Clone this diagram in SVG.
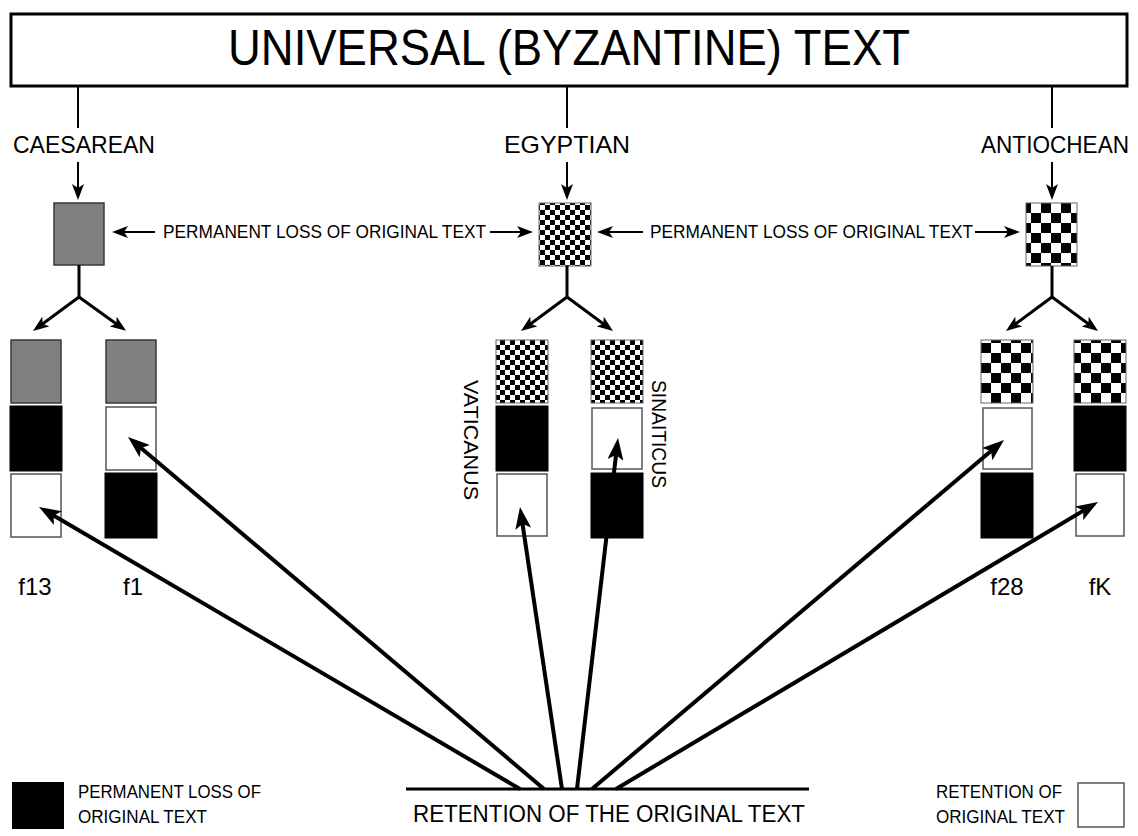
<svg xmlns="http://www.w3.org/2000/svg" width="1138" height="836" viewBox="0 0 1138 836">
<style>
text{font-family:"Liberation Sans",Arial,sans-serif;fill:#000}
.ln{stroke:#000;fill:none}
.thin{stroke-width:2}
.med{stroke-width:3}
.thick{stroke-width:4}
.gray{fill:#808080;stroke:#3a3a3a;stroke-width:1.5}
.blk{fill:#000;stroke:#000;stroke-width:1}
.wht{fill:#fff;stroke:#555;stroke-width:1.5}
.chkS{fill:url(#chkS);stroke:#666;stroke-width:1}
.chkL{fill:url(#chkL);stroke:#666;stroke-width:1}
</style>
<defs>
<pattern id="chkS" patternUnits="userSpaceOnUse" width="10" height="10"><rect width="10" height="10" fill="#fff"/><rect width="5" height="5" fill="#000"/><rect x="5" y="5" width="5" height="5" fill="#000"/></pattern>
<pattern id="chkL" patternUnits="userSpaceOnUse" width="20" height="20" x="1" y="3"><rect width="20" height="20" fill="#fff"/><rect width="10" height="10" fill="#000"/><rect x="10" y="10" width="10" height="10" fill="#000"/></pattern>
<marker id="ahS" markerUnits="userSpaceOnUse" markerWidth="16" markerHeight="12" refX="8" refY="6" orient="auto"><path d="M0,0 L16,6 L0,12 L4,6 z" fill="#000"/></marker>
<marker id="ahL" markerUnits="userSpaceOnUse" markerWidth="22" markerHeight="16" refX="10" refY="8" orient="auto"><path d="M0,0 L22,8 L0,16 L5,8 z" fill="#000"/></marker>
</defs>
<rect width="1138" height="836" fill="#fff"/>

<g id="title">
<rect x="11" y="14" width="1116" height="72" fill="#fff" stroke="#000" stroke-width="3"/>
<text x="569" y="65" font-size="50" text-anchor="middle" textLength="682" lengthAdjust="spacingAndGlyphs">UNIVERSAL (BYZANTINE) TEXT</text>
</g>

<g id="labels-top">
<text x="84" y="153" font-size="24" text-anchor="middle" textLength="142" lengthAdjust="spacingAndGlyphs">CAESAREAN</text>
<text x="567" y="153" font-size="24" text-anchor="middle" textLength="126" lengthAdjust="spacingAndGlyphs">EGYPTIAN</text>
<text x="1055" y="153" font-size="24" text-anchor="middle" textLength="148" lengthAdjust="spacingAndGlyphs">ANTIOCHEAN</text>
</g>

<g id="caesarean"><rect x="54" y="203" width="50" height="62" class="gray"/></g>
<g id="egyptian"><rect x="539" y="203" width="52" height="63" class="chkS"/></g>
<g id="antiochean"><rect x="1026" y="203" width="51" height="63" class="chkL"/></g>

<g id="loss-labels">
<text x="163" y="238" font-size="18" textLength="323" lengthAdjust="spacingAndGlyphs">PERMANENT LOSS OF ORIGINAL TEXT</text>
<text x="650" y="238" font-size="18" textLength="323" lengthAdjust="spacingAndGlyphs">PERMANENT LOSS OF ORIGINAL TEXT</text>
</g>

<g id="f13">
<rect x="11" y="340" width="50" height="63" class="gray"/>
<rect x="10" y="406" width="52" height="65" class="blk"/>
<rect x="11" y="474" width="50" height="63" class="wht"/>
<text x="35" y="595" font-size="24" text-anchor="middle">f13</text>
</g>
<g id="f1">
<rect x="106" y="340" width="50" height="63" class="gray"/>
<rect x="106" y="407" width="50" height="63" class="wht"/>
<rect x="105" y="473" width="52" height="65" class="blk"/>
<text x="133" y="595" font-size="24" text-anchor="middle">f1</text>
</g>
<g id="vaticanus">
<rect x="496" y="340" width="52" height="63" class="chkS"/>
<rect x="496" y="406" width="52" height="65" class="blk"/>
<rect x="497" y="474" width="50" height="62" class="wht"/>
<text transform="translate(464,440) rotate(90)" font-size="21" text-anchor="middle" textLength="120" lengthAdjust="spacingAndGlyphs">VATICANUS</text>
</g>
<g id="sinaiticus">
<rect x="591" y="340" width="52" height="63" class="chkS"/>
<rect x="592" y="408" width="50" height="61" class="wht"/>
<rect x="591" y="473" width="52" height="65" class="blk"/>
<text transform="translate(652,434) rotate(90)" font-size="21" text-anchor="middle" textLength="108" lengthAdjust="spacingAndGlyphs">SINAITICUS</text>
</g>
<g id="f28">
<rect x="981" y="340" width="52" height="63" class="chkL"/>
<rect x="983" y="408" width="49" height="61" class="wht"/>
<rect x="981" y="473" width="52" height="65" class="blk"/>
<text x="1007" y="595" font-size="24" text-anchor="middle">f28</text>
</g>
<g id="fK">
<rect x="1074" y="340" width="52" height="63" class="chkL"/>
<rect x="1074" y="406" width="52" height="65" class="blk"/>
<rect x="1076" y="474" width="48" height="62" class="wht"/>
<text x="1100" y="595" font-size="24" text-anchor="middle">fK</text>
</g>

<g id="retention">
<line x1="406" y1="789" x2="809" y2="789" class="ln med"/>
<text x="609" y="822" font-size="23" text-anchor="middle" textLength="392" lengthAdjust="spacingAndGlyphs">RETENTION OF THE ORIGINAL TEXT</text>
</g>

<g id="legend-loss">
<rect x="12" y="782" width="52" height="47" fill="#000"/>
<text x="78" y="798" font-size="18" textLength="183" lengthAdjust="spacingAndGlyphs">PERMANENT LOSS OF</text>
<text x="78" y="823" font-size="18" textLength="129" lengthAdjust="spacingAndGlyphs">ORIGINAL TEXT</text>
</g>
<g id="legend-retention">
<text x="936" y="798" font-size="18" textLength="126" lengthAdjust="spacingAndGlyphs">RETENTION OF</text>
<text x="936" y="823" font-size="18" textLength="129" lengthAdjust="spacingAndGlyphs">ORIGINAL TEXT</text>
<rect x="1078" y="783" width="46" height="44" class="wht"/>
</g>

<g id="connectors">
<line x1="78" y1="86" x2="78" y2="128" class="ln thin"/>
<line x1="567" y1="86" x2="567" y2="128" class="ln thin"/>
<line x1="1052" y1="86" x2="1052" y2="128" class="ln thin"/>
<line x1="78" y1="162" x2="78" y2="192" class="ln thin" marker-end="url(#ahS)"/>
<line x1="567" y1="162" x2="567" y2="192" class="ln thin" marker-end="url(#ahS)"/>
<line x1="1052" y1="162" x2="1052" y2="192" class="ln thin" marker-end="url(#ahS)"/>

<line x1="155" y1="232" x2="120" y2="232" class="ln thin" marker-end="url(#ahS)"/>
<line x1="490" y1="232" x2="525" y2="232" class="ln thin" marker-end="url(#ahS)"/>
<line x1="643" y1="232" x2="605" y2="232" class="ln thin" marker-end="url(#ahS)"/>
<line x1="975" y1="232" x2="1012" y2="232" class="ln thin" marker-end="url(#ahS)"/>

<line x1="79" y1="265" x2="79" y2="297" class="ln med"/>
<line x1="79" y1="297" x2="39.4" y2="326.2" class="ln med" marker-end="url(#ahS)"/>
<line x1="79" y1="297" x2="119.6" y2="326.2" class="ln med" marker-end="url(#ahS)"/>
<line x1="567" y1="266" x2="567" y2="297" class="ln med"/>
<line x1="567" y1="297" x2="527.4" y2="326.2" class="ln med" marker-end="url(#ahS)"/>
<line x1="567" y1="297" x2="606.6" y2="326.2" class="ln med" marker-end="url(#ahS)"/>
<line x1="1052" y1="266" x2="1052" y2="297" class="ln med"/>
<line x1="1052" y1="297" x2="1012.4" y2="326.2" class="ln med" marker-end="url(#ahS)"/>
<line x1="1052" y1="297" x2="1091.6" y2="326.2" class="ln med" marker-end="url(#ahS)"/>

<line x1="520" y1="789" x2="49.35" y2="513.07" class="ln thick" marker-end="url(#ahL)"/>
<line x1="544" y1="789" x2="137.16" y2="444.75" class="ln thick" marker-end="url(#ahL)"/>
<line x1="562" y1="789" x2="521.77" y2="518.87" class="ln thick" marker-end="url(#ahL)"/>
<line x1="577" y1="789" x2="616.61" y2="449.92" class="ln thick" marker-end="url(#ahL)"/>
<line x1="592" y1="789" x2="994.84" y2="447.76" class="ln thick" marker-end="url(#ahL)"/>
<line x1="616" y1="789" x2="1087.69" y2="508.14" class="ln thick" marker-end="url(#ahL)"/>
</g>
</svg>
